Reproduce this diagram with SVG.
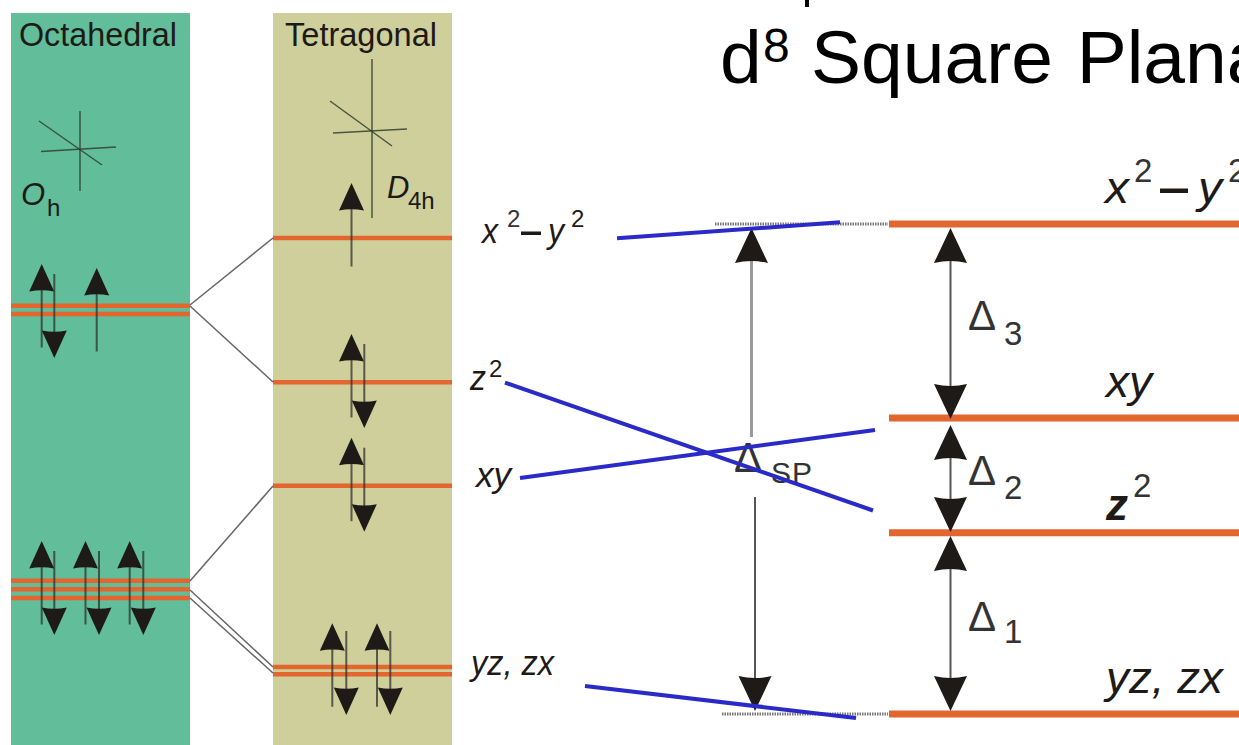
<svg xmlns="http://www.w3.org/2000/svg" xmlns:xlink="http://www.w3.org/1999/xlink" width="1239" height="745" viewBox="0 0 1239 745">
<style>
text{font-family:"Liberation Sans",Arial,sans-serif;fill:#1d1a17}
.i{font-style:italic}
.hd{font-size:33px}
.lv{stroke:#e2662e;stroke-width:4.6;fill:none}
.lvb{stroke:#e2662e;stroke-width:7;fill:none}
.ax{stroke:#33402f;stroke-width:1.5;fill:none;opacity:.85}
.st{stroke:#2e322c;stroke-width:2;fill:none;opacity:.75}
.cn{stroke:#666;stroke-width:1.5;fill:none}
.bl{stroke:#2a2ac8;stroke-width:4;fill:none}
.dt{stroke:#777;stroke-width:3;stroke-dasharray:1.5 1;fill:none}
.dl{stroke:#555;stroke-width:2;fill:none}
.ms{font-size:35px}
.mb{font-size:44px}
.sb{font-size:24px}
.sl{font-size:33px;fill:#333}
.dg{font-size:42px;fill:#333}
</style>
<defs>
<path id="hu" d="M0,0L12.5,27.5Q0,25 -12.5,27.5Z" fill="#1d1a17"/>
<path id="hd" d="M0,0L12.5,-27.5Q0,-25 -12.5,-27.5Z" fill="#1d1a17"/>
<path id="bu" d="M0,0L16.5,35Q0,31 -16.5,35Z" fill="#1d1a17"/>
<path id="bd" d="M0,0L16.5,-35Q0,-31 -16.5,-35Z" fill="#1d1a17"/>
<g id="sup"><line class="st" x1="0" y1="24" x2="0" y2="83.5"/><use xlink:href="#hu" href="#hu"/></g>
<g id="sdn"><line class="st" x1="0" y1="-84" x2="0" y2="-24"/><use xlink:href="#hd" href="#hd"/></g>
</defs>
<g id="octahedral-panel">
<rect x="11" y="13" width="179" height="732" fill="#62bd9a"/>
<text class="hd" x="19" y="46" textLength="158" lengthAdjust="spacingAndGlyphs">Octahedral</text>
<line class="ax" x1="80" y1="111" x2="80" y2="191"/>
<line class="ax" x1="41" y1="151.5" x2="116" y2="147"/>
<line class="ax" x1="39" y1="121" x2="102" y2="165"/>
<text class="i" x="21" y="205" font-size="31">O</text>
<text x="47" y="216" font-size="24">h</text>
<line class="lv" x1="11" y1="305.7" x2="190" y2="305.7"/>
<line class="lv" x1="11" y1="314" x2="190" y2="314"/>
<line class="lv" x1="11" y1="580.7" x2="190" y2="580.7"/>
<line class="lv" x1="11" y1="589.3" x2="190" y2="589.3"/>
<line class="lv" x1="11" y1="598" x2="190" y2="598"/>
<use xlink:href="#sup" href="#sup" x="41.7" y="264"/>
<use xlink:href="#sdn" href="#sdn" x="54.3" y="358"/>
<use xlink:href="#sup" href="#sup" x="96.7" y="268"/>
<use xlink:href="#sup" href="#sup" x="41.7" y="541"/>
<use xlink:href="#sdn" href="#sdn" x="54.3" y="635"/>
<use xlink:href="#sup" href="#sup" x="85.5" y="541"/>
<use xlink:href="#sdn" href="#sdn" x="99" y="635"/>
<use xlink:href="#sup" href="#sup" x="129.7" y="541"/>
<use xlink:href="#sdn" href="#sdn" x="143.3" y="635"/>
</g>
<g id="tetragonal-panel">
<rect x="273" y="13" width="179" height="732" fill="#cfcf9b"/>
<text class="hd" x="285" y="46" textLength="152" lengthAdjust="spacingAndGlyphs">Tetragonal</text>
<line class="ax" x1="372" y1="59" x2="372" y2="218"/>
<line class="ax" x1="333" y1="133" x2="407" y2="129"/>
<line class="ax" x1="330" y1="101" x2="392" y2="146"/>
<text class="i" x="387" y="198" font-size="31">D</text>
<text x="408" y="209" font-size="24">4h</text>
<line class="lv" x1="273" y1="238" x2="452" y2="238"/>
<line class="lv" x1="273" y1="382.3" x2="452" y2="382.3"/>
<line class="lv" x1="273" y1="485.7" x2="452" y2="485.7"/>
<line class="lv" x1="273" y1="667" x2="452" y2="667"/>
<line class="lv" x1="273" y1="674.3" x2="452" y2="674.3"/>
<use xlink:href="#sup" href="#sup" x="351.5" y="183"/>
<use xlink:href="#sup" href="#sup" x="351.5" y="334"/>
<use xlink:href="#sdn" href="#sdn" x="364.3" y="428"/>
<use xlink:href="#sup" href="#sup" x="351.5" y="437.7"/>
<use xlink:href="#sdn" href="#sdn" x="364.3" y="531.7"/>
<use xlink:href="#sup" href="#sup" x="332.3" y="623.3"/>
<use xlink:href="#sdn" href="#sdn" x="346.3" y="715"/>
<use xlink:href="#sup" href="#sup" x="377" y="623.3"/>
<use xlink:href="#sdn" href="#sdn" x="390.3" y="715"/>
</g>
<g id="connectors">
<line class="cn" x1="190" y1="305" x2="273" y2="238"/>
<line class="cn" x1="190" y1="306" x2="273" y2="382"/>
<line class="cn" x1="190" y1="581" x2="273" y2="486"/>
<line class="cn" x1="190" y1="590" x2="273" y2="667"/>
<line class="cn" x1="190" y1="598" x2="273" y2="673"/>
</g>
<g id="title">
<text x="720" y="83" font-size="75" style="fill:#000">d</text>
<text x="763" y="62" font-size="48" style="fill:#000">8</text>
<text x="811" y="83" font-size="75" word-spacing="3" style="fill:#000">Square Plana</text>
<rect x="805" y="0" width="4" height="7" fill="#000"/>
</g>
<g id="left-labels">
<text class="ms i" x="482" y="243" textLength="16" lengthAdjust="spacingAndGlyphs">x</text><text class="sb" x="507" y="227" style="fill:#333">2</text>
<rect x="521" y="231.5" width="20" height="3.5" fill="#1d1a17"/>
<text class="ms i" x="548" y="243" textLength="16" lengthAdjust="spacingAndGlyphs">y</text><text class="sb" x="571" y="227">2</text>
<text class="ms i" x="470" y="390" textLength="16" lengthAdjust="spacingAndGlyphs">z</text><text class="sb" x="489" y="377">2</text>
<text class="ms i" x="476" y="487" textLength="35" lengthAdjust="spacingAndGlyphs">xy</text>
<text class="ms i" x="471" y="675" textLength="83" lengthAdjust="spacingAndGlyphs">yz, zx</text>
</g>
<g id="right-levels">
<line class="dt" x1="715" y1="224" x2="888" y2="224"/>
<line class="dt" x1="722" y1="714" x2="888" y2="714"/>
<line class="lvb" x1="889" y1="224" x2="1239" y2="224"/>
<line class="lvb" x1="889" y1="418" x2="1239" y2="418"/>
<line class="lvb" x1="889" y1="532.7" x2="1239" y2="532.7"/>
<line class="lvb" x1="889" y1="714" x2="1239" y2="714"/>
</g>
<g id="gap-arrows">
<line class="dl" x1="950.5" y1="255" x2="950.5" y2="390"/>
<use xlink:href="#bu" href="#bu" x="950.5" y="228"/>
<use xlink:href="#bd" href="#bd" x="950.5" y="419"/>
<line class="dl" x1="950.5" y1="452" x2="950.5" y2="500"/>
<use xlink:href="#bu" href="#bu" x="950.5" y="425"/>
<use xlink:href="#bd" href="#bd" x="950.5" y="532"/>
<line class="dl" x1="950.5" y1="565" x2="950.5" y2="680"/>
<use xlink:href="#bu" href="#bu" x="950.5" y="536"/>
<use xlink:href="#bd" href="#bd" x="950.5" y="711"/>
<line x1="751.5" y1="255" x2="751.5" y2="437" stroke="#999" stroke-width="3"/>
<use xlink:href="#bu" href="#bu" x="751.5" y="228"/>
<line class="dl" x1="755" y1="497" x2="755" y2="680"/>
<use xlink:href="#bd" href="#bd" x="755" y="711"/>
</g>
<g id="right-labels">
<text class="mb i" x="1105" y="203" textLength="24" lengthAdjust="spacingAndGlyphs">x</text><text class="sl" x="1134" y="182">2</text>
<rect x="1160" y="188.5" width="28" height="4.5" fill="#1d1a17"/>
<text class="mb i" x="1198" y="203" textLength="24" lengthAdjust="spacingAndGlyphs">y</text><text class="sl" x="1228" y="182">2</text>
<text class="mb i" x="1106" y="397" textLength="46" lengthAdjust="spacingAndGlyphs">xy</text>
<text class="mb i" x="1106" y="520" font-weight="bold">z</text><text class="sl" x="1133" y="497">2</text>
<text class="mb i" x="1106" y="693" textLength="117" lengthAdjust="spacingAndGlyphs">yz, zx</text>
<text class="dg" x="968" y="330">Δ</text><text class="sl" x="1004" y="345">3</text>
<text class="dg" x="968" y="485">Δ</text><text class="sl" x="1004" y="499">2</text>
<text class="dg" x="968" y="631">Δ</text><text class="sl" x="1004" y="643">1</text>
<text class="dg" x="734" y="472">Δ</text><text class="sl" x="771" y="483" style="font-size:30px" textLength="41">SP</text>
</g>
<g id="blue-overlay">
<line class="bl" x1="617" y1="238.3" x2="840" y2="222.3"/>
<line class="bl" x1="505" y1="382.7" x2="873" y2="510.5"/>
<line class="bl" x1="520" y1="478" x2="875" y2="430"/>
<line class="bl" x1="585" y1="686" x2="856" y2="718"/>
</g>
</svg>
